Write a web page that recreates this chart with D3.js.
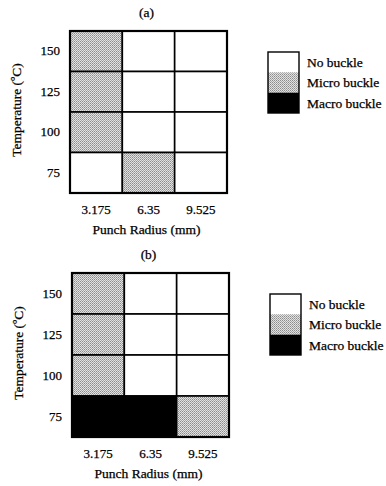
<!DOCTYPE html>
<html>
<head>
<meta charset="utf-8">
<script src="https://cdn.jsdelivr.net/npm/d3@7"></script>
<style>
  body { margin: 0; background: #fff; }
  text { font-family: "Liberation Serif", "DejaVu Serif", serif; fill: #000; stroke: #000; stroke-width: 0.25px; }
</style>
</head>
<body>
<svg id="chart" width="386" height="486"></svg>
<script>
// --- data ---
const radii = ['3.175', '6.35', '9.525'];
const temps = ['150', '125', '100', '75'];
const states = ['No buckle', 'Micro buckle', 'Macro buckle'];

// rows follow temps (150 -> 75), columns follow radii
const panelA = [
  ['Micro buckle', 'No buckle', 'No buckle'],
  ['Micro buckle', 'No buckle', 'No buckle'],
  ['Micro buckle', 'No buckle', 'No buckle'],
  ['No buckle', 'Micro buckle', 'No buckle']
];
const panelB = [
  ['Micro buckle', 'No buckle', 'No buckle'],
  ['Micro buckle', 'No buckle', 'No buckle'],
  ['Micro buckle', 'No buckle', 'No buckle'],
  ['Macro buckle', 'Macro buckle', 'Micro buckle']
];

const svg = d3.select('#chart');

// stipple pattern for the micro buckle cells
const pat = svg.append('defs').append('pattern')
  .attr('id', 'stipple')
  .attr('patternUnits', 'userSpaceOnUse')
  .attr('width', 2).attr('height', 2);
pat.append('rect').attr('width', 2).attr('height', 2).attr('fill', '#e2e2e2');
pat.append('rect').attr('x', 0).attr('y', 0).attr('width', 1).attr('height', 1).attr('fill', '#8c8c8c');
pat.append('rect').attr('x', 1).attr('y', 1).attr('width', 1).attr('height', 1).attr('fill', '#a8a8a8');

const fill = d3.scaleOrdinal()
  .domain(states)
  .range(['#fff', 'url(#stipple)', '#000']);

const fs = '13.5px';

function drawPanel(opt) {
  const { data, label, left, top, width, height, legendX, legendY } = opt;

  const x = d3.scaleBand().domain(radii).range([0, width]);
  const y = d3.scaleBand().domain(temps).range([0, height]);

  const g = svg.append('g').attr('transform', `translate(${left},${top})`);

  // panel label
  svg.append('text')
    .attr('x', left + width / 2 - 2)
    .attr('y', top - 14)
    .attr('text-anchor', 'middle')
    .style('font-size', fs)
    .text(label);

  const cells = [];
  data.forEach((row, i) => row.forEach((s, j) => cells.push({ t: temps[i], r: radii[j], s })));

  g.selectAll('rect.cell')
    .data(cells)
    .enter().append('rect')
      .attr('class', 'cell')
      .attr('x', d => x(d.r))
      .attr('y', d => y(d.t))
      .attr('width', x.bandwidth())
      .attr('height', y.bandwidth())
      .attr('fill', d => fill(d.s))
      .attr('stroke', '#000')
      .attr('stroke-width', 1.6);

  // outer frame
  g.append('rect')
    .attr('width', width).attr('height', height)
    .attr('fill', 'none').attr('stroke', '#000').attr('stroke-width', 2.2);

  // axes
  g.append('g')
    .attr('transform', `translate(0,${height})`)
    .call(d3.axisBottom(x).tickSize(0).tickPadding(12))
    .call(a => a.select('.domain').remove())
    .selectAll('text')
      .style('font-size', '13px')
      .style('font-family', '"Liberation Serif", serif');

  g.append('g')
    .call(d3.axisLeft(y).tickSize(0).tickPadding(10))
    .call(a => a.select('.domain').remove())
    .selectAll('text')
      .style('font-size', '13px')
      .style('font-family', '"Liberation Serif", serif');

  g.append('text')
    .attr('x', width / 2 - 2)
    .attr('y', height + 41)
    .attr('text-anchor', 'middle')
    .style('font-size', fs)
    .text('Punch Radius (mm)');

  g.append('text')
    .attr('transform', 'rotate(-90)')
    .attr('x', -height / 2 + 2)
    .attr('y', -49)
    .attr('text-anchor', 'middle')
    .style('font-size', fs)
    .text('Temperature (ºC)');

  // legend
  const ly = d3.scaleBand().domain(states).range([0, 61]);
  const lg = svg.append('g').attr('transform', `translate(${legendX},${legendY})`);
  lg.selectAll('rect')
    .data(states)
    .enter().append('rect')
      .attr('x', 0)
      .attr('y', d => ly(d))
      .attr('width', 31)
      .attr('height', ly.bandwidth())
      .attr('fill', d => fill(d));
  lg.append('rect')
    .attr('width', 31).attr('height', 61)
    .attr('fill', 'none').attr('stroke', '#000').attr('stroke-width', 1.4);
  lg.selectAll('text')
    .data(states)
    .enter().append('text')
      .attr('x', 39)
      .attr('y', d => ly(d) + ly.bandwidth() / 2)
      .attr('dy', '0.35em')
      .style('font-size', fs)
      .text(d => d);
}

drawPanel({ data: panelA, label: '(a)', left: 70, top: 31, width: 157, height: 162, legendX: 268, legendY: 52 });
drawPanel({ data: panelB, label: '(b)', left: 72, top: 273, width: 157, height: 164, legendX: 270, legendY: 294 });
</script>
</body>
</html>
